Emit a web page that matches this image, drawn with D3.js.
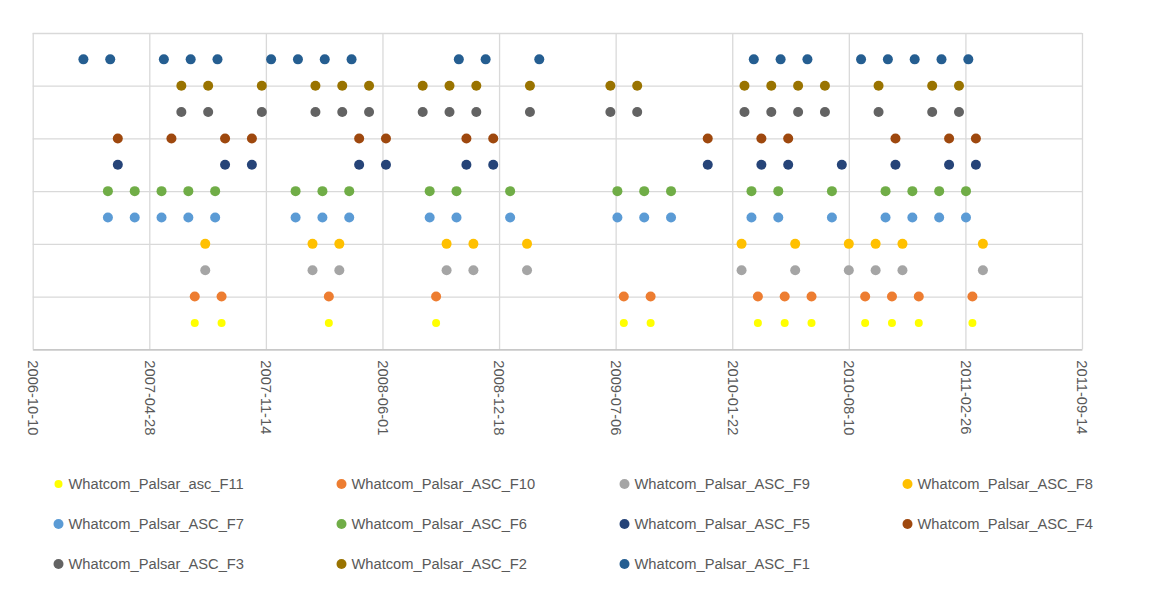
<!DOCTYPE html>
<html>
<head>
<meta charset="utf-8">
<script src="https://cdn.jsdelivr.net/npm/d3@7"></script>
<style>
  html, body { margin: 0; padding: 0; background: #ffffff; }
  svg { display: block; font-family: "Liberation Sans", Arial, sans-serif; }
</style>
</head>
<body>
<svg id="chart" width="1151" height="600"></svg>
<script>
// ---- Data ----
const seriesNames = [
  "Whatcom_Palsar_asc_F11", "Whatcom_Palsar_ASC_F10", "Whatcom_Palsar_ASC_F9",
  "Whatcom_Palsar_ASC_F8", "Whatcom_Palsar_ASC_F7", "Whatcom_Palsar_ASC_F6",
  "Whatcom_Palsar_ASC_F5", "Whatcom_Palsar_ASC_F4", "Whatcom_Palsar_ASC_F3",
  "Whatcom_Palsar_ASC_F2", "Whatcom_Palsar_ASC_F1"
];
const seriesLevels = [1, 2, 3, 4, 5, 6, 7, 8, 9, 10, 11];
const seriesColors = ["#FFFF00", "#ED7D31", "#A5A5A5", "#FFC000", "#5B9BD5", "#70AD47",
                      "#264478", "#9E480E", "#636363", "#997300", "#255E91"];

const datesF11 = ["2007-07-15","2007-08-30","2008-03-01","2008-09-01","2009-07-20","2009-09-04",
  "2010-03-07","2010-04-22","2010-06-07","2010-09-07","2010-10-23","2010-12-08","2011-03-10"];
const datesF10 = ["2007-07-15","2007-08-30","2008-03-01","2008-09-01","2009-07-20","2009-09-04",
  "2010-03-07","2010-04-22","2010-06-07","2010-09-07","2010-10-23","2010-12-08","2011-03-10"];
const datesF9 = ["2007-08-02","2008-02-02","2008-03-19","2008-09-19","2008-11-04","2009-02-04",
  "2010-02-07","2010-05-10","2010-08-10","2010-09-25","2010-11-10","2011-03-28"];
const datesF8 = ["2007-08-02","2008-02-02","2008-03-19","2008-09-19","2008-11-04","2009-02-04",
  "2010-02-07","2010-05-10","2010-08-10","2010-09-25","2010-11-10","2011-03-28"];
const datesF7 = ["2007-02-16","2007-04-03","2007-05-19","2007-07-04","2007-08-19","2008-01-04",
  "2008-02-19","2008-04-05","2008-08-21","2008-10-06","2009-01-06","2009-07-09","2009-08-24",
  "2009-10-09","2010-02-24","2010-04-11","2010-07-12","2010-10-12","2010-11-27","2011-01-12","2011-02-27"];
const datesF6 = ["2007-02-16","2007-04-03","2007-05-19","2007-07-04","2007-08-19","2008-01-04",
  "2008-02-19","2008-04-05","2008-08-21","2008-10-06","2009-01-06","2009-07-09","2009-08-24",
  "2009-10-09","2010-02-24","2010-04-11","2010-07-12","2010-10-12","2010-11-27","2011-01-12","2011-02-27"];
const datesF5 = ["2007-03-05","2007-09-05","2007-10-21","2008-04-22","2008-06-07","2008-10-23",
  "2008-12-08","2009-12-11","2010-03-13","2010-04-28","2010-07-29","2010-10-29","2011-01-29","2011-03-16"];
const datesF4 = ["2007-03-05","2007-06-05","2007-09-05","2007-10-21","2008-04-22","2008-06-07","2008-10-23",
  "2008-12-08","2009-12-11","2010-03-13","2010-04-28","2010-10-29","2011-01-29","2011-03-16"];
const datesF3 = ["2007-06-22","2007-08-07","2007-11-07","2008-02-07","2008-03-24","2008-05-09",
  "2008-08-09","2008-09-24","2008-11-09","2009-02-09","2009-06-27","2009-08-12","2010-02-12",
  "2010-03-30","2010-05-15","2010-06-30","2010-09-30","2010-12-31","2011-02-15"];
const datesF2 = ["2007-06-22","2007-08-07","2007-11-07","2008-02-07","2008-03-24","2008-05-09",
  "2008-08-09","2008-09-24","2008-11-09","2009-02-09","2009-06-27","2009-08-12","2010-02-12",
  "2010-03-30","2010-05-15","2010-06-30","2010-09-30","2010-12-31","2011-02-15"];
const datesF1 = ["2007-01-05","2007-02-20","2007-05-23","2007-07-08","2007-08-23","2007-11-23",
  "2008-01-08","2008-02-23","2008-04-09","2008-10-10","2008-11-25","2009-02-25","2010-02-28",
  "2010-04-15","2010-05-31","2010-08-31","2010-10-16","2010-12-01","2011-01-16","2011-03-03"];

const seriesDates = [datesF11, datesF10, datesF9, datesF8, datesF7, datesF6,
                     datesF5, datesF4, datesF3, datesF2, datesF1];

const xTickLabels = ["2006-10-10","2007-04-28","2007-11-14","2008-06-01","2008-12-18",
  "2009-07-06","2010-01-22","2010-08-10","2011-02-26","2011-09-14"];
const yTicks = [0, 2, 4, 6, 8, 10, 12];

// ---- Layout ----
const parse = d3.utcParse("%Y-%m-%d");
const fmt = d3.utcFormat("%Y-%m-%d");
const plot = { left: 32.7, right: 1082, top: 33, bottom: 349.3 };

const svg = d3.select("#chart");
svg.append("rect").attr("width", 1151).attr("height", 600).attr("fill", "#ffffff");

const x = d3.scaleUtc()
  .domain([parse(xTickLabels[0]), parse(xTickLabels[xTickLabels.length - 1])])
  .range([plot.left, plot.right]);
const y = d3.scaleLinear().domain([0, 12]).range([plot.bottom, plot.top]);

// horizontal gridlines
const yGrid = svg.append("g")
  .attr("transform", `translate(${plot.left},0)`)
  .call(d3.axisLeft(y).tickValues(yTicks).tickSize(-(plot.right - plot.left)).tickFormat(""));
yGrid.select(".domain").remove();
yGrid.selectAll(".tick line").attr("stroke", "#d9d9d9").attr("stroke-width", 1.3);

// vertical gridlines
const xGrid = svg.append("g")
  .attr("transform", `translate(0,${plot.bottom})`)
  .call(d3.axisBottom(x).tickValues(xTickLabels.map(parse)).tickSize(-(plot.bottom - plot.top)).tickFormat(""));
xGrid.select(".domain").remove();
xGrid.selectAll(".tick line").attr("stroke", "#d9d9d9").attr("stroke-width", 1.3);

// x axis with rotated labels
const xAxis = svg.append("g")
  .attr("transform", `translate(0,${plot.bottom})`)
  .call(d3.axisBottom(x).tickValues(xTickLabels.map(parse)).tickFormat(fmt).tickSize(0));
xAxis.select(".domain").attr("stroke", "#bfbfbf").attr("stroke-width", 1.3);
xAxis.selectAll(".tick text")
  .attr("transform", "rotate(90)")
  .attr("x", 11)
  .attr("y", 0)
  .attr("dy", "0.35em")
  .attr("text-anchor", "start")
  .attr("fill", "#595959")
  .style("font-size", "14.7px")
  .style("font-family", "'Liberation Sans', Arial, sans-serif");

// points
seriesNames.forEach((name, i) => {
  const r = i === 0 ? 4 : 5;
  svg.append("g").selectAll("circle")
    .data(seriesDates[i])
    .join("circle")
    .attr("cx", d => x(parse(d)))
    .attr("cy", y(seriesLevels[i]))
    .attr("r", r)
    .attr("fill", seriesColors[i]);
});

// legend
const legCols = [58.5, 341.5, 624.5, 907.5];
const legRows = [484, 524, 564];
const legend = svg.append("g");
seriesNames.forEach((name, i) => {
  const cx = legCols[i % 4];
  const cy = legRows[Math.floor(i / 4)];
  legend.append("circle")
    .attr("cx", cx).attr("cy", cy)
    .attr("r", i === 0 ? 4 : 5)
    .attr("fill", seriesColors[i]);
  legend.append("text")
    .attr("x", cx + 10).attr("y", cy)
    .attr("dy", "0.35em")
    .attr("fill", "#595959")
    .style("font-size", "14.7px")
    .text(name);
});
</script>
</body>
</html>
